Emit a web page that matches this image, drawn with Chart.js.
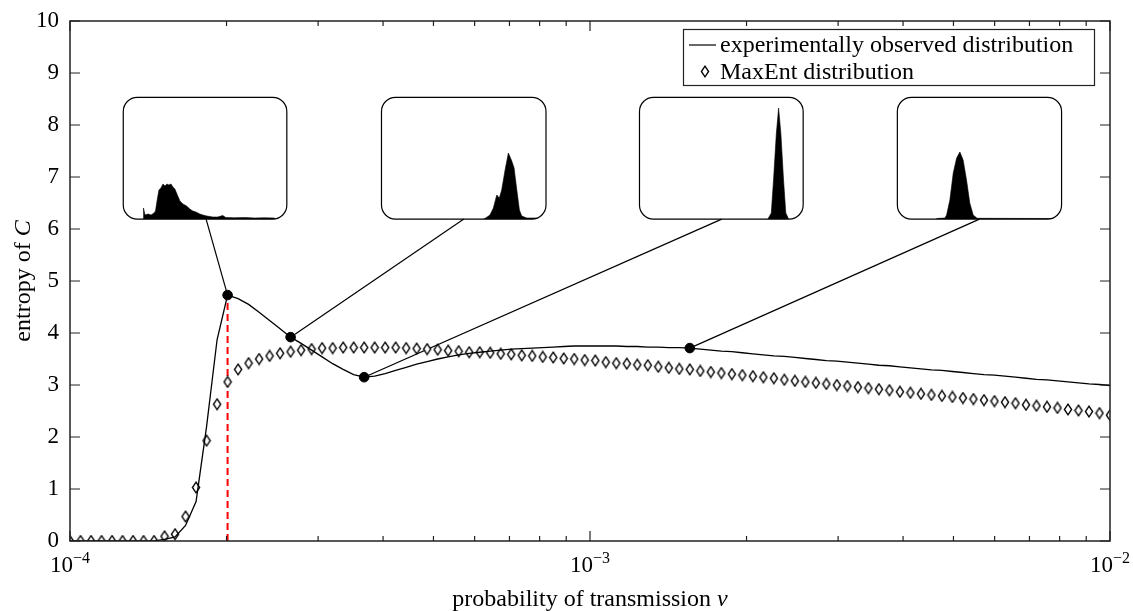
<!DOCTYPE html>
<html>
<head>
<meta charset="utf-8">
<script src="https://cdn.jsdelivr.net/npm/chart.js@4.4.1/dist/chart.umd.min.js"></script>
<style>
  html, body { margin: 0; padding: 0; background: #fff; }
  #wrap { position: relative; width: 1133px; height: 611px; }
  #main { position: absolute; left: 0; top: 0; }
  .inset { position: absolute; display: block; }
</style>
</head>
<body>
<div id="wrap"><canvas id="main" width="1133" height="611"></canvas></div>
<script>
const FONT = '"Liberation Serif", "Times New Roman", serif';

// 100 log-spaced transmission probabilities, 1e-4 .. 1e-2 (sampling grid of the x axis)
const nu = Array.from({ length: 100 }, (_, i) => Math.pow(10, -4 + 2 * i / 99));

const entropyObserved = [
  0, 0, 0, 0, 0, 0, 0, 0, 0,
  0.03, 0.08, 0.30, 0.76, 2.20, 3.87, 4.73, 4.66, 4.55, 4.40, 4.24,
  4.08, 3.92, 3.80, 3.67, 3.54, 3.41, 3.30, 3.20, 3.15, 3.17,
  3.22, 3.28, 3.34, 3.40, 3.45, 3.50, 3.54, 3.58, 3.61, 3.63,
  3.65, 3.67, 3.69, 3.70, 3.71, 3.72, 3.73, 3.74, 3.75, 3.75,
  3.75, 3.75, 3.75, 3.74, 3.74, 3.73, 3.73, 3.72, 3.72, 3.71,
  3.69, 3.67, 3.65, 3.64, 3.62, 3.60, 3.58, 3.56, 3.55, 3.53,
  3.51, 3.49, 3.47, 3.46, 3.44, 3.42, 3.40, 3.38, 3.37, 3.35,
  3.33, 3.31, 3.29, 3.28, 3.26, 3.24, 3.22, 3.20, 3.19, 3.17,
  3.15, 3.13, 3.11, 3.10, 3.08, 3.06, 3.04, 3.02, 3.01, 2.99
];

const entropyMaxEnt = [
  0, 0, 0, 0, 0, 0, 0, 0, 0,
  0.09, 0.13, 0.47, 1.03, 1.93, 2.63, 3.06, 3.30, 3.42, 3.50, 3.56,
  3.61, 3.64, 3.67, 3.69, 3.71, 3.71, 3.72, 3.72, 3.72, 3.72,
  3.72, 3.72, 3.71, 3.70, 3.69, 3.68, 3.66, 3.65, 3.63, 3.63,
  3.62, 3.60, 3.59, 3.57, 3.56, 3.54, 3.53, 3.51, 3.50, 3.48,
  3.47, 3.44, 3.42, 3.41, 3.39, 3.38, 3.35, 3.33, 3.31, 3.30,
  3.27, 3.25, 3.23, 3.21, 3.19, 3.17, 3.15, 3.13, 3.10, 3.08,
  3.06, 3.04, 3.02, 3.00, 2.98, 2.96, 2.94, 2.92, 2.90, 2.87,
  2.85, 2.83, 2.81, 2.79, 2.77, 2.75, 2.73, 2.71, 2.69, 2.67,
  2.65, 2.62, 2.60, 2.58, 2.56, 2.53, 2.51, 2.49, 2.46, 2.42
];

// samples shown as insets, and the critical transmission (red dashed)
const markedIdx = [15, 21, 28, 59];
const criticalIdx = 15;

const yTicks = [0, 1, 2, 3, 4, 5, 6, 7, 8, 9, 10];
const xMajorTicks = [1e-4, 1e-3, 1e-2];
const xTickExponents = ['\u22124', '\u22123', '\u22122'];
const xMinorTicks = [2e-4, 3e-4, 4e-4, 5e-4, 6e-4, 7e-4, 8e-4, 9e-4,
                     2e-3, 3e-3, 4e-3, 5e-3, 6e-3, 7e-3, 8e-3, 9e-3];

// inset histograms of C (normalised C on 0..1, frequency in arbitrary units)
const hist1C = [0, 0.001, 0.0125, 0.035, 0.057, 0.079, 0.09, 0.101, 0.115, 0.13, 0.145, 0.16, 0.174,
  0.189, 0.204, 0.218, 0.233, 0.248, 0.27, 0.292, 0.319, 0.343, 0.365, 0.388, 0.417, 0.439, 0.468,
  0.512, 0.549, 0.586, 0.608, 0.674, 0.748, 0.821, 0.895, 0.968, 0.975];
const hist1F = [0, 11, 4, 5, 4, 6, 8, 18, 29, 31, 35, 33, 35,
  34, 35, 32, 30, 25, 18, 15, 13, 10, 8, 7, 5, 4, 3,
  2, 2, 3.5, 1.5, 1.2, 1.5, 1, 1.2, 1, 0];
const hist2C = [0.6, 0.6125, 0.649, 0.674, 0.699, 0.718, 0.735, 0.76, 0.784, 0.809, 0.826, 0.846, 0.865, 0.882, 0.919, 0.993, 0.995];
const hist2F = [0, 0.5, 4, 11, 24, 21, 29, 49, 66, 58, 51, 29, 9, 3, 1, 1, 0];
const hist3C = [0.801, 0.826, 0.843, 0.863, 0.88, 0.897, 0.916, 0.933, 0.954];
const hist3F = [0, 6, 40, 85, 111, 85, 40, 6, 0];
const hist4C = [0.14, 0.143, 0.204, 0.216, 0.24, 0.265, 0.29, 0.314, 0.338, 0.363, 0.387, 0.412, 0.441, 1.0, 1.002];
const hist4F = [0, 0.5, 1, 4, 19, 46, 61, 67, 59, 39, 16, 4, 0.7, 0.5, 0];

// inset boxes in data coordinates, with the point where the leader line meets each box
const insetBoxes = [
  { x0: 1.266e-4, x1: 2.612e-4, anchor: 1.827e-4, c: hist1C, f: hist1F },
  { x0: 3.972e-4, x1: 8.23e-4, anchor: 5.72e-4, c: hist2C, f: hist2F },
  { x0: 1.245e-3, x1: 2.57e-3, anchor: 1.792e-3, c: hist3C, f: hist3F },
  { x0: 3.90e-3, x1: 8.07e-3, anchor: 5.61e-3, c: hist4C, f: hist4F }
];
const insetY0 = 6.19, insetY1 = 8.53;

function diamondSprite() {
  const c = document.createElement('canvas');
  c.width = 10; c.height = 13;
  const g = c.getContext('2d');
  g.beginPath();
  g.moveTo(5, 1.2); g.lineTo(8.6, 6.5); g.lineTo(5, 11.8); g.lineTo(1.4, 6.5); g.closePath();
  g.fillStyle = '#fff'; g.fill();
  g.lineWidth = 1.35; g.strokeStyle = '#000'; g.stroke();
  return c;
}
const diamond = diamondSprite();

const overlay = {
  id: 'overlay',
  beforeDatasetsDraw(chart) {
    const { ctx, scales: { x, y } } = chart;
    ctx.save();
    ctx.strokeStyle = '#000';
    ctx.lineWidth = 1.2;
    insetBoxes.forEach((b, k) => {
      const l = x.getPixelForValue(b.x0), r = x.getPixelForValue(b.x1);
      const t = y.getPixelForValue(insetY1), bt = y.getPixelForValue(insetY0);
      ctx.beginPath();
      ctx.roundRect(l, t, r - l, bt - t, 14);
      ctx.stroke();
      const i = markedIdx[k];
      ctx.beginPath();
      ctx.moveTo(x.getPixelForValue(nu[i]), y.getPixelForValue(entropyObserved[i]));
      ctx.lineTo(x.getPixelForValue(b.anchor), bt);
      ctx.stroke();
    });
    ctx.restore();
  },
  afterDraw(chart) {
    const { ctx, chartArea: a, scales: { x, y } } = chart;
    ctx.save();
    ctx.strokeStyle = '#222';
    ctx.lineWidth = 1.5;
    ctx.strokeRect(a.left, a.top, a.right - a.left, a.bottom - a.top);

    ctx.lineWidth = 1.2;
    ctx.beginPath();
    yTicks.forEach(v => {
      const py = y.getPixelForValue(v);
      ctx.moveTo(a.left, py); ctx.lineTo(a.left + 10, py);
      ctx.moveTo(a.right, py); ctx.lineTo(a.right - 10, py);
    });
    xMajorTicks.forEach(v => {
      const px = x.getPixelForValue(v);
      ctx.moveTo(px, a.bottom); ctx.lineTo(px, a.bottom - 10);
      ctx.moveTo(px, a.top); ctx.lineTo(px, a.top + 10);
    });
    xMinorTicks.forEach(v => {
      const px = x.getPixelForValue(v);
      ctx.moveTo(px, a.bottom); ctx.lineTo(px, a.bottom - 5);
      ctx.moveTo(px, a.top); ctx.lineTo(px, a.top + 5);
    });
    ctx.stroke();

    // x tick labels 10^k
    ctx.fillStyle = '#000';
    ctx.textBaseline = 'alphabetic';
    ctx.textAlign = 'left';
    xMajorTicks.forEach((v, k) => {
      const px = x.getPixelForValue(v);
      ctx.font = '23px ' + FONT;
      const w1 = ctx.measureText('10').width;
      ctx.font = '16px ' + FONT;
      const w2 = ctx.measureText(xTickExponents[k]).width;
      const sx = px - (w1 + w2) / 2;
      ctx.font = '23px ' + FONT;
      ctx.fillText('10', sx, a.bottom + 31);
      ctx.font = '16px ' + FONT;
      ctx.fillText(xTickExponents[k], sx + w1, a.bottom + 22);
    });

    // axis titles (plain text + italic symbol)
    const mixed = (plain, sym, cx, cy) => {
      ctx.font = '24px ' + FONT;
      const w1 = ctx.measureText(plain).width;
      ctx.font = 'italic 24px ' + FONT;
      const w2 = ctx.measureText(sym).width;
      const sx = cx - (w1 + w2) / 2;
      ctx.font = '24px ' + FONT;
      ctx.fillText(plain, sx, cy);
      ctx.font = 'italic 24px ' + FONT;
      ctx.fillText(sym, sx + w1, cy);
    };
    mixed('probability of transmission ', '\u03bd', (a.left + a.right) / 2, 606);
    ctx.save();
    ctx.translate(30, (a.top + a.bottom) / 2);
    ctx.rotate(-Math.PI / 2);
    mixed('entropy of ', 'C', 0, 0);
    ctx.restore();

    // legend
    ctx.lineWidth = 1.2;
    ctx.strokeStyle = '#222';
    ctx.strokeRect(683.5, 29.5, 411, 56);
    ctx.strokeStyle = '#000';
    ctx.beginPath(); ctx.moveTo(689, 45); ctx.lineTo(716, 45); ctx.stroke();
    ctx.drawImage(diamond, 705 - diamond.width / 2, 71.5 - diamond.height / 2);
    ctx.font = '24px ' + FONT;
    ctx.fillText('experimentally observed distribution', 720, 52);
    ctx.fillText('MaxEnt distribution', 720, 79);
    ctx.restore();
  }
};

const mainChart = new Chart(document.getElementById('main'), {
  type: 'line',
  data: {
    datasets: [
      {
        label: 'marked',
        data: markedIdx.map(i => ({ x: nu[i], y: entropyObserved[i] })),
        showLine: false,
        pointRadius: 4.8,
        pointBackgroundColor: '#000',
        pointBorderColor: '#000',
        order: 0
      },
      {
        label: 'experimentally observed distribution',
        data: nu.map((v, i) => ({ x: v, y: entropyObserved[i] })),
        borderColor: '#000',
        borderWidth: 1.3,
        pointRadius: 0,
        tension: 0,
        order: 1
      },
      {
        label: 'MaxEnt distribution',
        data: nu.map((v, i) => ({ x: v, y: entropyMaxEnt[i] })),
        showLine: false,
        pointStyle: diamond,
        pointRadius: 5,
        order: 2
      },
      {
        label: 'critical',
        data: [{ x: nu[criticalIdx], y: 0 }, { x: nu[criticalIdx], y: entropyObserved[criticalIdx] }],
        borderColor: '#ff0000',
        borderWidth: 2,
        borderDash: [7, 4],
        pointRadius: 0,
        order: 3
      }
    ]
  },
  options: {
    responsive: false,
    animation: false,
    layout: { padding: { top: 21, right: 23, bottom: 70, left: 0 } },
    plugins: { legend: { display: false }, tooltip: { enabled: false } },
    scales: {
      x: {
        type: 'logarithmic',
        min: 1e-4,
        max: 1e-2,
        grid: { display: false, drawTicks: false },
        border: { display: false },
        ticks: { display: false }
      },
      y: {
        min: 0,
        max: 10,
        afterFit: s => { s.width = 70; s.paddingTop = 0; s.paddingBottom = 0; },
        grid: { display: false, drawTicks: false },
        border: { display: false },
        ticks: { stepSize: 1, color: '#000', padding: 11, font: { family: FONT, size: 23 } }
      }
    }
  },
  plugins: [overlay]
});

// inset histograms, each a small chart placed on its box
const wrap = document.getElementById('wrap');
insetBoxes.forEach(b => {
  const xs = mainChart.scales.x, ys = mainChart.scales.y;
  const l = xs.getPixelForValue(b.x0), r = xs.getPixelForValue(b.x1);
  const t = ys.getPixelForValue(insetY1), bt = ys.getPixelForValue(insetY0);
  const cv = document.createElement('canvas');
  cv.className = 'inset';
  cv.width = Math.round(r - l);
  cv.height = Math.round(bt - t);
  cv.style.left = Math.round(l) + 'px';
  cv.style.top = Math.round(t) + 'px';
  wrap.appendChild(cv);
  new Chart(cv, {
    type: 'line',
    data: {
      datasets: [{
        data: b.c.map((c, i) => ({ x: c, y: b.f[i] })),
        borderColor: '#000',
        borderWidth: 0.6,
        backgroundColor: '#000',
        fill: 'origin',
        pointRadius: 0,
        tension: 0
      }]
    },
    options: {
      responsive: false,
      animation: false,
      layout: { padding: 0 },
      plugins: { legend: { display: false }, tooltip: { enabled: false } },
      scales: {
        x: { type: 'linear', display: false, min: -0.15, max: 1.06 },
        y: { display: false, min: 0, max: cv.height }
      }
    }
  });
});
</script>
</body>
</html>
